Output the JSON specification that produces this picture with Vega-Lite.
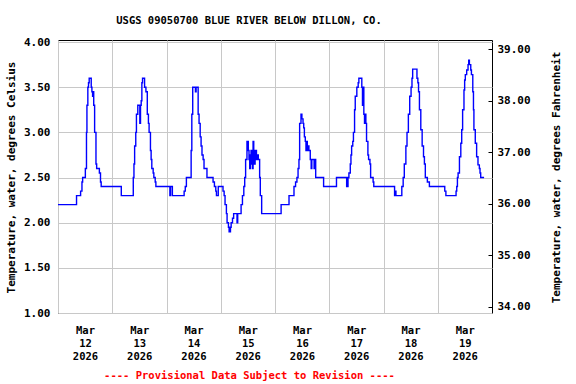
{
  "$schema": "https://vega.github.io/schema/vega-lite/v6.json",
  "width": 434,
  "height": 273,
  "autosize": {"type": "none"},
  "padding": {"left": 58, "top": 40, "right": 84, "bottom": 71},
  "background": "white",
  "config": {"font": "DejaVu Sans Mono", "view": {"stroke": "black", "strokeWidth": 1}},
  "title": {"text": "USGS 09050700 BLUE RIVER BELOW DILLON, CO.", "font": "DejaVu Sans Mono", "fontWeight": "bold", "fontSize": 10.5, "anchor": "middle", "dx": -26, "offset": 2, "baseline": "alphabetic", "color": "black"},
  "layer": [
    {
      "data": {"values": [
        {"t": "2026-03-12T00:00:00Z", "v": 2.2},
        {"t": "2026-03-12T08:12:00Z", "v": 2.3},
        {"t": "2026-03-12T10:00:00Z", "v": 2.35},
        {"t": "2026-03-12T10:36:00Z", "v": 2.45},
        {"t": "2026-03-12T10:54:00Z", "v": 2.5},
        {"t": "2026-03-12T12:06:00Z", "v": 2.6},
        {"t": "2026-03-12T12:36:00Z", "v": 3.0},
        {"t": "2026-03-12T12:48:00Z", "v": 3.3},
        {"t": "2026-03-12T13:12:00Z", "v": 3.5},
        {"t": "2026-03-12T13:30:00Z", "v": 3.55},
        {"t": "2026-03-12T13:48:00Z", "v": 3.6},
        {"t": "2026-03-12T14:42:00Z", "v": 3.5},
        {"t": "2026-03-12T15:00:00Z", "v": 3.45},
        {"t": "2026-03-12T15:18:00Z", "v": 3.4},
        {"t": "2026-03-12T15:36:00Z", "v": 3.45},
        {"t": "2026-03-12T15:48:00Z", "v": 3.3},
        {"t": "2026-03-12T16:12:00Z", "v": 3.0},
        {"t": "2026-03-12T16:48:00Z", "v": 2.65},
        {"t": "2026-03-12T17:06:00Z", "v": 2.6},
        {"t": "2026-03-12T18:18:00Z", "v": 2.55},
        {"t": "2026-03-12T18:48:00Z", "v": 2.45},
        {"t": "2026-03-12T19:06:00Z", "v": 2.4},
        {"t": "2026-03-13T04:00:00Z", "v": 2.3},
        {"t": "2026-03-13T09:18:00Z", "v": 2.5},
        {"t": "2026-03-13T09:36:00Z", "v": 2.65},
        {"t": "2026-03-13T09:54:00Z", "v": 2.85},
        {"t": "2026-03-13T10:24:00Z", "v": 3.0},
        {"t": "2026-03-13T10:42:00Z", "v": 3.2},
        {"t": "2026-03-13T11:18:00Z", "v": 3.3},
        {"t": "2026-03-13T12:12:00Z", "v": 3.1},
        {"t": "2026-03-13T12:30:00Z", "v": 3.3},
        {"t": "2026-03-13T12:48:00Z", "v": 3.35},
        {"t": "2026-03-13T13:06:00Z", "v": 3.55},
        {"t": "2026-03-13T13:24:00Z", "v": 3.6},
        {"t": "2026-03-13T14:18:00Z", "v": 3.5},
        {"t": "2026-03-13T14:54:00Z", "v": 3.45},
        {"t": "2026-03-13T15:30:00Z", "v": 3.2},
        {"t": "2026-03-13T16:00:00Z", "v": 3.1},
        {"t": "2026-03-13T16:18:00Z", "v": 3.0},
        {"t": "2026-03-13T16:54:00Z", "v": 2.8},
        {"t": "2026-03-13T17:12:00Z", "v": 2.7},
        {"t": "2026-03-13T17:30:00Z", "v": 2.6},
        {"t": "2026-03-13T18:06:00Z", "v": 2.55},
        {"t": "2026-03-13T18:24:00Z", "v": 2.5},
        {"t": "2026-03-13T19:00:00Z", "v": 2.45},
        {"t": "2026-03-13T19:18:00Z", "v": 2.4},
        {"t": "2026-03-14T01:30:00Z", "v": 2.3},
        {"t": "2026-03-14T01:48:00Z", "v": 2.4},
        {"t": "2026-03-14T02:36:00Z", "v": 2.3},
        {"t": "2026-03-14T07:48:00Z", "v": 2.35},
        {"t": "2026-03-14T08:18:00Z", "v": 2.4},
        {"t": "2026-03-14T08:48:00Z", "v": 2.5},
        {"t": "2026-03-14T10:54:00Z", "v": 2.8},
        {"t": "2026-03-14T11:12:00Z", "v": 3.2},
        {"t": "2026-03-14T11:36:00Z", "v": 3.5},
        {"t": "2026-03-14T12:48:00Z", "v": 3.45},
        {"t": "2026-03-14T13:06:00Z", "v": 3.5},
        {"t": "2026-03-14T14:00:00Z", "v": 3.2},
        {"t": "2026-03-14T14:24:00Z", "v": 3.1},
        {"t": "2026-03-14T14:54:00Z", "v": 2.95},
        {"t": "2026-03-14T15:18:00Z", "v": 2.85},
        {"t": "2026-03-14T15:42:00Z", "v": 2.75},
        {"t": "2026-03-14T16:12:00Z", "v": 2.7},
        {"t": "2026-03-14T16:36:00Z", "v": 2.6},
        {"t": "2026-03-14T17:54:00Z", "v": 2.5},
        {"t": "2026-03-14T20:36:00Z", "v": 2.45},
        {"t": "2026-03-14T21:12:00Z", "v": 2.4},
        {"t": "2026-03-14T21:48:00Z", "v": 2.35},
        {"t": "2026-03-14T22:06:00Z", "v": 2.3},
        {"t": "2026-03-14T22:54:00Z", "v": 2.4},
        {"t": "2026-03-15T01:00:00Z", "v": 2.35},
        {"t": "2026-03-15T01:30:00Z", "v": 2.3},
        {"t": "2026-03-15T01:54:00Z", "v": 2.2},
        {"t": "2026-03-15T02:30:00Z", "v": 2.1},
        {"t": "2026-03-15T02:48:00Z", "v": 2.0},
        {"t": "2026-03-15T03:24:00Z", "v": 1.95},
        {"t": "2026-03-15T03:42:00Z", "v": 1.9},
        {"t": "2026-03-15T04:18:00Z", "v": 1.95},
        {"t": "2026-03-15T04:36:00Z", "v": 2.0},
        {"t": "2026-03-15T05:12:00Z", "v": 2.05},
        {"t": "2026-03-15T05:42:00Z", "v": 2.1},
        {"t": "2026-03-15T07:12:00Z", "v": 2.0},
        {"t": "2026-03-15T07:30:00Z", "v": 2.1},
        {"t": "2026-03-15T09:00:00Z", "v": 2.2},
        {"t": "2026-03-15T09:36:00Z", "v": 2.3},
        {"t": "2026-03-15T10:12:00Z", "v": 2.4},
        {"t": "2026-03-15T10:36:00Z", "v": 2.5},
        {"t": "2026-03-15T11:00:00Z", "v": 2.7},
        {"t": "2026-03-15T11:36:00Z", "v": 2.9},
        {"t": "2026-03-15T12:12:00Z", "v": 2.8},
        {"t": "2026-03-15T12:30:00Z", "v": 2.7},
        {"t": "2026-03-15T12:48:00Z", "v": 2.6},
        {"t": "2026-03-15T13:06:00Z", "v": 2.75},
        {"t": "2026-03-15T13:24:00Z", "v": 2.8},
        {"t": "2026-03-15T13:42:00Z", "v": 2.65},
        {"t": "2026-03-15T14:00:00Z", "v": 2.6},
        {"t": "2026-03-15T14:18:00Z", "v": 2.9},
        {"t": "2026-03-15T14:36:00Z", "v": 2.8},
        {"t": "2026-03-15T14:54:00Z", "v": 2.65},
        {"t": "2026-03-15T15:12:00Z", "v": 2.7},
        {"t": "2026-03-15T15:30:00Z", "v": 2.8},
        {"t": "2026-03-15T15:48:00Z", "v": 2.7},
        {"t": "2026-03-15T16:00:00Z", "v": 2.75},
        {"t": "2026-03-15T16:36:00Z", "v": 2.7},
        {"t": "2026-03-15T17:12:00Z", "v": 2.5},
        {"t": "2026-03-15T17:30:00Z", "v": 2.3},
        {"t": "2026-03-15T18:06:00Z", "v": 2.1},
        {"t": "2026-03-16T02:42:00Z", "v": 2.2},
        {"t": "2026-03-16T06:12:00Z", "v": 2.3},
        {"t": "2026-03-16T08:24:00Z", "v": 2.4},
        {"t": "2026-03-16T09:06:00Z", "v": 2.45},
        {"t": "2026-03-16T09:42:00Z", "v": 2.5},
        {"t": "2026-03-16T10:12:00Z", "v": 2.6},
        {"t": "2026-03-16T10:36:00Z", "v": 2.7},
        {"t": "2026-03-16T10:54:00Z", "v": 3.1},
        {"t": "2026-03-16T11:30:00Z", "v": 3.2},
        {"t": "2026-03-16T11:54:00Z", "v": 3.15},
        {"t": "2026-03-16T12:24:00Z", "v": 3.1},
        {"t": "2026-03-16T12:42:00Z", "v": 3.05},
        {"t": "2026-03-16T13:00:00Z", "v": 2.95},
        {"t": "2026-03-16T13:24:00Z", "v": 2.9},
        {"t": "2026-03-16T13:42:00Z", "v": 2.8},
        {"t": "2026-03-16T14:00:00Z", "v": 2.9},
        {"t": "2026-03-16T14:18:00Z", "v": 2.8},
        {"t": "2026-03-16T14:42:00Z", "v": 2.85},
        {"t": "2026-03-16T15:00:00Z", "v": 2.8},
        {"t": "2026-03-16T15:36:00Z", "v": 2.7},
        {"t": "2026-03-16T16:00:00Z", "v": 2.6},
        {"t": "2026-03-16T16:18:00Z", "v": 2.7},
        {"t": "2026-03-16T17:18:00Z", "v": 2.6},
        {"t": "2026-03-16T17:30:00Z", "v": 2.7},
        {"t": "2026-03-16T18:00:00Z", "v": 2.5},
        {"t": "2026-03-16T21:30:00Z", "v": 2.4},
        {"t": "2026-03-17T03:12:00Z", "v": 2.5},
        {"t": "2026-03-17T07:42:00Z", "v": 2.4},
        {"t": "2026-03-17T08:18:00Z", "v": 2.5},
        {"t": "2026-03-17T08:42:00Z", "v": 2.55},
        {"t": "2026-03-17T09:18:00Z", "v": 2.65},
        {"t": "2026-03-17T09:36:00Z", "v": 2.75},
        {"t": "2026-03-17T09:54:00Z", "v": 2.85},
        {"t": "2026-03-17T10:24:00Z", "v": 2.9},
        {"t": "2026-03-17T10:42:00Z", "v": 3.0},
        {"t": "2026-03-17T11:12:00Z", "v": 3.25},
        {"t": "2026-03-17T11:30:00Z", "v": 3.4},
        {"t": "2026-03-17T12:12:00Z", "v": 3.5},
        {"t": "2026-03-17T12:48:00Z", "v": 3.55},
        {"t": "2026-03-17T13:06:00Z", "v": 3.6},
        {"t": "2026-03-17T14:24:00Z", "v": 3.5},
        {"t": "2026-03-17T14:42:00Z", "v": 3.3},
        {"t": "2026-03-17T15:00:00Z", "v": 3.5},
        {"t": "2026-03-17T15:18:00Z", "v": 3.2},
        {"t": "2026-03-17T15:36:00Z", "v": 3.1},
        {"t": "2026-03-17T15:54:00Z", "v": 3.2},
        {"t": "2026-03-17T16:12:00Z", "v": 3.1},
        {"t": "2026-03-17T16:30:00Z", "v": 2.9},
        {"t": "2026-03-17T17:06:00Z", "v": 2.75},
        {"t": "2026-03-17T17:24:00Z", "v": 2.7},
        {"t": "2026-03-17T18:00:00Z", "v": 2.65},
        {"t": "2026-03-17T18:18:00Z", "v": 2.5},
        {"t": "2026-03-17T19:24:00Z", "v": 2.45},
        {"t": "2026-03-17T19:42:00Z", "v": 2.4},
        {"t": "2026-03-18T04:54:00Z", "v": 2.3},
        {"t": "2026-03-18T05:12:00Z", "v": 2.35},
        {"t": "2026-03-18T05:30:00Z", "v": 2.3},
        {"t": "2026-03-18T08:06:00Z", "v": 2.4},
        {"t": "2026-03-18T08:42:00Z", "v": 2.5},
        {"t": "2026-03-18T09:12:00Z", "v": 2.65},
        {"t": "2026-03-18T09:54:00Z", "v": 2.85},
        {"t": "2026-03-18T10:24:00Z", "v": 3.0},
        {"t": "2026-03-18T11:00:00Z", "v": 3.2},
        {"t": "2026-03-18T11:36:00Z", "v": 3.4},
        {"t": "2026-03-18T12:12:00Z", "v": 3.5},
        {"t": "2026-03-18T12:36:00Z", "v": 3.6},
        {"t": "2026-03-18T12:54:00Z", "v": 3.7},
        {"t": "2026-03-18T14:48:00Z", "v": 3.6},
        {"t": "2026-03-18T15:12:00Z", "v": 3.55},
        {"t": "2026-03-18T15:30:00Z", "v": 3.45},
        {"t": "2026-03-18T15:54:00Z", "v": 3.25},
        {"t": "2026-03-18T16:30:00Z", "v": 3.03},
        {"t": "2026-03-18T17:06:00Z", "v": 2.85},
        {"t": "2026-03-18T17:42:00Z", "v": 2.73},
        {"t": "2026-03-18T18:06:00Z", "v": 2.65},
        {"t": "2026-03-18T18:30:00Z", "v": 2.5},
        {"t": "2026-03-18T19:24:00Z", "v": 2.45},
        {"t": "2026-03-18T20:18:00Z", "v": 2.4},
        {"t": "2026-03-19T03:06:00Z", "v": 2.35},
        {"t": "2026-03-19T03:36:00Z", "v": 2.3},
        {"t": "2026-03-19T08:06:00Z", "v": 2.35},
        {"t": "2026-03-19T08:24:00Z", "v": 2.4},
        {"t": "2026-03-19T08:42:00Z", "v": 2.5},
        {"t": "2026-03-19T09:00:00Z", "v": 2.55},
        {"t": "2026-03-19T09:36:00Z", "v": 2.73},
        {"t": "2026-03-19T10:12:00Z", "v": 2.88},
        {"t": "2026-03-19T10:36:00Z", "v": 3.03},
        {"t": "2026-03-19T11:00:00Z", "v": 3.25},
        {"t": "2026-03-19T11:36:00Z", "v": 3.47},
        {"t": "2026-03-19T11:54:00Z", "v": 3.58},
        {"t": "2026-03-19T12:12:00Z", "v": 3.64},
        {"t": "2026-03-19T12:48:00Z", "v": 3.69},
        {"t": "2026-03-19T13:24:00Z", "v": 3.75},
        {"t": "2026-03-19T13:42:00Z", "v": 3.8},
        {"t": "2026-03-19T14:00:00Z", "v": 3.75},
        {"t": "2026-03-19T14:36:00Z", "v": 3.69},
        {"t": "2026-03-19T14:54:00Z", "v": 3.64},
        {"t": "2026-03-19T15:30:00Z", "v": 3.45},
        {"t": "2026-03-19T15:48:00Z", "v": 3.25},
        {"t": "2026-03-19T16:00:00Z", "v": 3.03},
        {"t": "2026-03-19T16:36:00Z", "v": 2.88},
        {"t": "2026-03-19T17:12:00Z", "v": 2.73},
        {"t": "2026-03-19T17:48:00Z", "v": 2.64},
        {"t": "2026-03-19T18:24:00Z", "v": 2.6},
        {"t": "2026-03-19T18:42:00Z", "v": 2.55},
        {"t": "2026-03-19T19:00:00Z", "v": 2.5},
        {"t": "2026-03-19T20:30:00Z", "v": 2.5}
      ]},
      "mark": {"type": "line", "interpolate": "step-after", "color": "#0000ff", "strokeWidth": 1.4},
      "encoding": {
        "x": {
          "field": "t", "type": "temporal",
          "scale": {"type": "utc", "domain": [{"year": 2026, "month": 3, "date": 12, "utc": true}, {"year": 2026, "month": 3, "date": 20, "utc": true}]},
          "axis": {
            "values": [
              {"year": 2026, "month": 3, "date": 12, "utc": true},
              {"year": 2026, "month": 3, "date": 13, "utc": true},
              {"year": 2026, "month": 3, "date": 14, "utc": true},
              {"year": 2026, "month": 3, "date": 15, "utc": true},
              {"year": 2026, "month": 3, "date": 16, "utc": true},
              {"year": 2026, "month": 3, "date": 17, "utc": true},
              {"year": 2026, "month": 3, "date": 18, "utc": true},
              {"year": 2026, "month": 3, "date": 19, "utc": true}
            ],
            "labelExpr": "[utcFormat(datum.value, '%b'), utcFormat(datum.value, '%d'), utcFormat(datum.value, '%Y')]",
            "labelOffset": 27,
            "grid": true, "gridColor": "#c8c8c8", "gridWidth": 1,
            "ticks": false, "domain": false,
            "labelFont": "DejaVu Sans Mono", "labelFontWeight": "bold", "labelFontSize": 10.5, "labelColor": "black",
            "labelLineHeight": 13, "labelPadding": 12, "labelBaseline": "top", "labelAlign": "center",
            "labelFlush": false, "labelOverlap": false, "labelBound": false,
            "title": "---- Provisional Data Subject to Revision ----",
            "titleColor": "#ff0000", "titleFont": "DejaVu Sans Mono", "titleFontWeight": "bold", "titleFontSize": 10.5,
            "titleX": 191, "titleY": 62, "titleAlign": "center", "titleBaseline": "middle"
          }
        },
        "y": {
          "field": "v", "type": "quantitative",
          "scale": {"domain": [1, 4.023], "nice": false, "zero": false},
          "axis": {
            "values": [1, 1.5, 2, 2.5, 3, 3.5, 4], "format": ".2f",
            "grid": true, "gridColor": "#c8c8c8", "ticks": false, "domain": false,
            "labelFont": "DejaVu Sans Mono", "labelFontWeight": "bold", "labelFontSize": 11, "labelColor": "black", "labelPadding": 8,
            "title": "Temperature, water, degrees Celsius",
            "titleFont": "DejaVu Sans Mono", "titleFontWeight": "bold", "titleFontSize": 11, "titleColor": "black",
            "titleX": -47, "titleY": 137, "titleAngle": 270, "titleAlign": "center", "titleBaseline": "middle"
          }
        }
      }
    },
    {
      "data": {"values": [{"f": 34}, {"f": 39}]},
      "mark": {"type": "point", "opacity": 0},
      "encoding": {
        "y": {
          "field": "f", "type": "quantitative",
          "scale": {"domain": [33.88, 39.18], "nice": false, "zero": false},
          "axis": {
            "orient": "right", "values": [34, 35, 36, 37, 38, 39], "format": ".2f",
            "grid": false, "domain": false, "ticks": true, "tickSize": -4, "tickColor": "black",
            "labelFont": "DejaVu Sans Mono", "labelFontWeight": "bold", "labelFontSize": 11, "labelColor": "black", "labelPadding": 9,
            "title": "Temperature, water, degrees Fahrenheit",
            "titleFont": "DejaVu Sans Mono", "titleFontWeight": "bold", "titleFontSize": 11, "titleColor": "black",
            "titleX": 64, "titleY": 137, "titleAngle": 270, "titleAlign": "center", "titleBaseline": "middle"
          }
        }
      }
    }
  ],
  "resolve": {"scale": {"y": "independent"}}
}
